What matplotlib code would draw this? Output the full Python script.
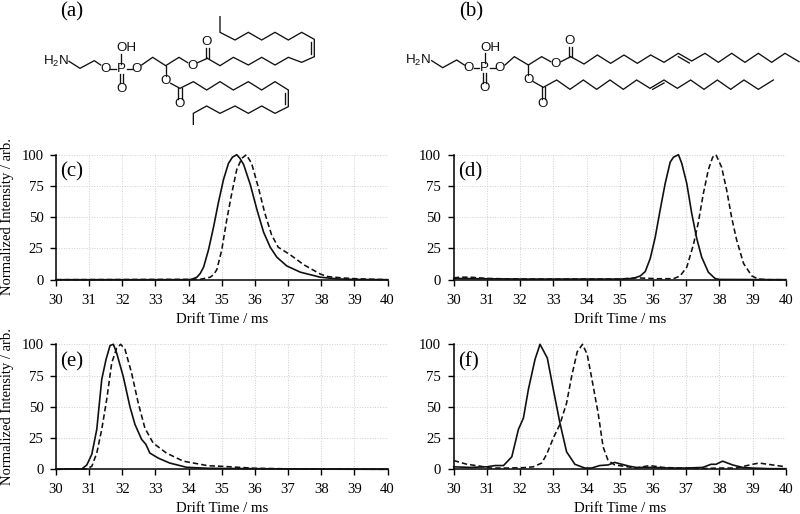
import matplotlib
matplotlib.use("Agg")
import matplotlib.pyplot as plt

plt.rcParams['font.family'] = ['Liberation Serif', 'DejaVu Serif']
plt.rcParams['mathtext.fontset'] = 'custom'
plt.rcParams['mathtext.rm'] = 'Liberation Sans'
plt.rcParams['mathtext.default'] = 'rm'
W, H = 800, 514

c_solid_x = [30,34.0,34.1,34.25,34.35,34.45,34.6,34.75,34.9,35.05,35.2,35.32,35.45,35.55,35.66,35.86,36.06,36.26,36.46,36.66,36.96,37.37,37.97,38.5,39,40]
c_solid_y = [0,0,0.4,2,5,10,24,42,62,80,93,98,100,97,92,76,56,38,26,18,11,6,2,0.6,0.2,0]
c_dash_x = [30,34.35,34.65,34.75,34.85,35,35.15,35.3,35.45,35.6,35.74,35.9,36.1,36.3,36.5,36.7,37.06,37.47,37.97,38.2,38.6,39,40]
c_dash_y = [0,0.3,2,4,8,24,48,69,88,97,100,93,74,53,36,26,20,12,4.5,2.5,1.5,0.8,0]

d_solid_x = [30,32,34,35,35.4,35.62,35.77,35.92,36.07,36.22,36.37,36.52,36.62,36.77,36.87,37.02,37.17,37.32,37.47,37.67,37.87,38,40]
d_solid_y = [1,0.5,0.5,0.5,1,3,6.5,17,34,56,77,94,98,100,93,77,53,33,18,6,1,0.2,0]
d_dash_x = [30,30.2,30.5,31,32,34,35,35.5,36.12,36.62,36.82,37.02,37.22,37.37,37.52,37.67,37.8,37.9,38.07,38.22,38.37,38.52,38.73,38.98,39.18,39.5,40]
d_dash_y = [1.5,2,2,1,0.5,0.5,0.5,1.5,0.8,0.8,3,10,28,46,69,88,98,100,90,72,50,32,13,3,0.5,0,0]

e_solid_x = [30,30.78,30.93,31.08,31.23,31.38,31.51,31.63,31.73,31.83,32.03,32.23,32.38,32.58,32.71,32.83,33.08,33.43,33.94,34.6,35,36,37,38.2,40]
e_solid_y = [0,0.3,3.5,12,32,72,88,99,100,93,74,50,36,24,20,13,9,5,1.6,0.8,0.7,0.5,0.3,0.1,0]
e_dash_x = [30,30.93,31.08,31.23,31.38,31.53,31.68,31.83,31.95,32.08,32.28,32.48,32.68,32.93,33.33,33.84,34.6,35,35.5,36,37,38,40]
e_dash_y = [0,0.2,2.4,13,32,56,85,97,100,96,77,53,33,21,13,6.5,2.8,2.4,1.6,0.8,0.4,0.2,0]

f_solid_x = [30,30.5,31,31.25,31.5,31.75,31.95,32.1,32.25,32.45,32.6,32.82,33,33.2,33.4,33.65,33.95,34.15,34.4,34.65,34.85,35.3,35.5,36,36.5,37,37.5,37.75,37.9,38.1,38.4,38.7,39,39.5,40]
f_solid_y = [2,1.5,2,3,3,10,32,41,64,88,100,89,64,37,14,4,1,1,3,3.5,5.5,2.4,1.5,1.5,1,1,1.5,4,4,6.5,3.5,1.5,1,0.5,0.5]
f_dash_x = [30,30.4,30.8,31.1,31.6,32.1,32.4,32.65,32.8,33,33.2,33.4,33.55,33.72,33.88,34.02,34.15,34.35,34.5,34.65,34.85,35.5,35.9,36.3,36.8,37.5,38,38.5,39,39.2,39.6,40]
f_dash_y = [7,4,2.5,1,1,1.3,2,5,12,25,36,53,74,94,100,92,74,45,18,7,3.5,1,3,1.5,1,0.7,1,1,4,5,3.5,2]

xticks = list(range(30, 41))
yticks = [0, 25, 50, 75, 100]
panel_labels = ['(c)', '(d)', '(e)', '(f)']
xlabel = 'Drift Time / ms'
ylabel = 'Normalized Intensity / arb.'

fig = plt.figure(figsize=(8, 5.14), dpi=100)

def px_axes(x0, x1, ytop, ybot):
    return fig.add_axes([x0/W, 1-ybot/H, (x1-x0)/W, (ybot-ytop)/H])

boxes = [(56, 387.6, 154.7, 279.7), (453.7, 785.7, 154.7, 279.7),
         (56, 387.6, 344.3, 469.3), (453.7, 785.7, 344.3, 469.3)]
curves = [(c_solid_x, c_solid_y, c_dash_x, c_dash_y),
          (d_solid_x, d_solid_y, d_dash_x, d_dash_y),
          (e_solid_x, e_solid_y, e_dash_x, e_dash_y),
          (f_solid_x, f_solid_y, f_dash_x, f_dash_y)]

for i, (box, cv, lab) in enumerate(zip(boxes, curves, panel_labels)):
    ax = px_axes(*box)
    ax.plot(cv[0], cv[1], color='#111111', lw=1.2, clip_on=False, zorder=3)
    ax.plot(cv[2], cv[3], color='#111111', lw=1.15, ls=(0, (3.4, 1.9)), clip_on=False, zorder=3)
    ax.set_xlim(30, 40)
    ax.set_ylim(0, 100)
    ax.set_xticks(xticks)
    ax.set_yticks(yticks)
    ax.grid(True, color='#cfcfcf', lw=0.7, ls=(0, (1, 1.6)))
    ax.set_axisbelow(True)
    ax.spines['top'].set_visible(False)
    ax.spines['right'].set_visible(False)
    for s in ('left', 'bottom'):
        ax.spines[s].set_linewidth(1.1)
    ax.tick_params(direction='out', length=4.5, width=1.0, labelsize=10.6)
    ax.tick_params(axis='x', pad=5.5)
    ax.tick_params(axis='y', pad=4.5)
    ax.set_xlabel(xlabel, fontsize=10.7, labelpad=4.3)
    if i % 2 == 0:
        ax.set_ylabel(ylabel, fontsize=10.5, labelpad=5.5, y=0.505)
    ax.text(0.012, 0.86, lab, transform=ax.transAxes, fontsize=15, va='center', ha='left')

# chemical structures, drawn in picture coordinates (3x zoomed pixels)
ov = fig.add_axes([0, 0, 1, 1], zorder=5)
ov.set_xlim(0, W*3)
ov.set_ylim(H*3, 0)
ov.axis('off')
ov.patch.set_alpha(0)

def chain(pts, dx=0):
    ov.plot([p[0]+dx for p in pts], [p[1] for p in pts], color='#111111', lw=0.95, solid_joinstyle='miter')

def atom(x, y, s, fs=9.6):
    ov.text(x, y, s, fontsize=fs, ha='center', va='center', family=['Liberation Sans'], color='#111111')

# (a)
ov.text(215, 36, '(a)', fontsize=15, ha='center', va='center')
atom(167, 184, 'H$_2$N', 9.6)
chain([(207,184),(240,205),(283,182),(302,195)])
atom(316,207,'O'); chain([(330,207),(348,207)]); atom(364,207,'P'); chain([(380,207),(397,207)]); atom(411,207,'O')
atom(380,145,'OH'); chain([(364,192),(364,162)])
chain([(359,222),(359,250)]); chain([(369,222),(369,250)]); atom(365,268,'O')
chain([(425,195),(458,172),(497,197),(537,172),(563,188)])
atom(578,197,'O'); chain([(593,188),(622,175)])
atom(620,127,'O'); chain([(617,143),(617,175)]); chain([(626,143),(626,175)])
chain([(622,175),(660,197),(700,172),(745,195),(785,172),(825,195),(865,172),(905,187),(943,170),(943,118),(905,97),(865,120),(825,97),(785,120),(745,97),(705,120),(660,97),(660,50)])
chain([(932,125),(932,162)])
chain([(497,197),(497,229)]); atom(497,243,'O')
chain([(512,250),(540,265),(580,245),(620,270),(660,245),(700,270),(745,245),(785,270),(825,245),(865,270),(865,320),(825,340),(785,318),(745,340),(705,318),(660,340),(620,318),(580,340),(580,373)])
chain([(854,278),(854,313)])
chain([(535,265),(535,297)]); chain([(545,265),(545,297)]); atom(538,313,'O')

# (b)
d = 1200
ov.text(d+213, 36, '(b)', fontsize=15, ha='center', va='center')
atom(d+55, 182, 'H$_2$N', 9.6)
chain([(95,182),(128,203),(170,180),(193,195)], d)
atom(d+207,205,'O'); chain([(221,205),(238,205)], d); atom(d+254,205,'P'); chain([(270,205),(286,205)], d); atom(d+300,205,'O')
atom(d+270,143,'OH'); chain([(254,190),(254,160)], d)
chain([(249,220),(249,248)], d); chain([(259,220),(259,248)], d); atom(d+254,265,'O')
chain([(315,195),(343,170),(385,195),(425,170),(452,185)], d)
atom(d+468,193,'O'); chain([(483,185),(512,170)], d)
atom(d+510,123,'O'); chain([(507,140),(507,170)], d); chain([(516,140),(516,170)], d)
chain([(512,170),(552,192),(592,165),(632,190),(672,165),(712,190),(752,165),(792,187),(835,160),(875,183),(915,160),(955,187),(995,160),(1035,187),(1075,160),(1115,187),(1155,160),(1197,185)], d)
chain([(835,170),(868,189)], d)
chain([(385,195),(385,226)], d); atom(d+386,240,'O')
chain([(400,245),(430,262),(470,240),(510,268),(550,240),(590,268),(630,240),(670,268),(710,240),(750,265),(792,240),(832,265),(872,240),(912,268),(952,240),(992,268),(1032,240),(1075,268),(1120,240)], d)
chain([(758,268),(792,249)], d)
chain([(425,262),(425,296)], d); chain([(435,262),(435,296)], d); atom(d+428,312,'O')

fig.savefig('out.png', dpi=100)
